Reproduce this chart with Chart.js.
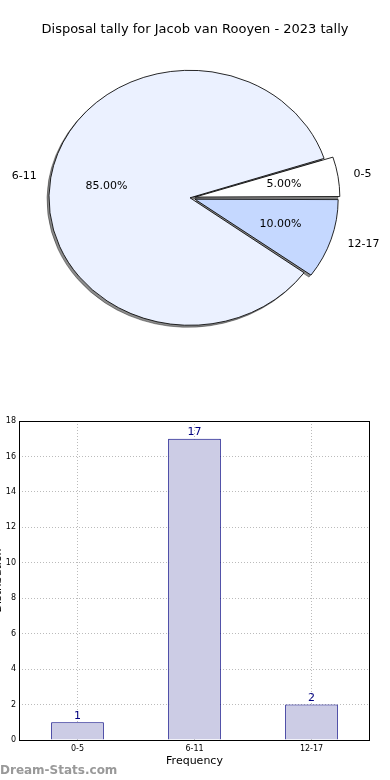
<!DOCTYPE html>
<html lang="en">
<head>
<meta charset="UTF-8">
<title>Disposal tally for Jacob van Rooyen - 2023 tally</title>
<script src="https://cdn.jsdelivr.net/npm/chart.js@4.4.1/dist/chart.umd.min.js"></script>
<style>
    body { margin: 0; background: #fff; width: 390px; height: 780px; overflow: hidden; position: relative; font-family: "DejaVu Sans", sans-serif; }
    canvas { display: block; }
    .watermark { position: absolute; left: 0; top: 763px; font-size: 12px; color: #999; font-weight: bold; }
</style>
</head>
<body>
<canvas id="pieChart" width="390" height="400"></canvas>
<canvas id="barChart" width="390" height="380"></canvas>
<div class="watermark">Dream-Stats.com</div>

<script>
// data
const binLabels = ['0-5', '6-11', '12-17'];
const binCounts = [1, 17, 2];
const sliceColors = ['#ffffff', '#ebf1ff', '#c5d8ff'];
const sliceExplode = [19, 0, 19];   // chart.js moves a slice by offset/2 px
const yTickMax = 18;
const yTickStep = 2;

const FONT = '"DejaVu Sans", sans-serif';
const total = binCounts.reduce((a, b) => a + b, 0);

// matplotlib draws counter-clockwise from 3 o'clock, Chart.js clockwise -> reverse order
const pieLabels = binLabels.slice().reverse();
const pieValues = binCounts.slice().reverse();
const pieColors = sliceColors.slice().reverse();
const pieOffsets = sliceExplode.slice().reverse();

const stretchX = 141 / 127.5; // pie is an ellipse in the reference
const shiftX = -5;            // pie sits a little left of the title
const shadowCol = 'rgba(0,0,0,0.45)';

function stretch(ctx, arc) {
    ctx.translate(arc.x + shiftX, arc.y);
    ctx.scale(stretchX, 1);
    ctx.translate(-arc.x, -arc.y);
}

const pieStyle = {
    id: 'pieStyle',
    beforeDatasetsDraw(chart) {
        const ctx = chart.ctx;
        const arcs = chart.getDatasetMeta(0).data;
        // shadows first, under every wedge
        ctx.save();
        ctx.translate(-2, 2);
        stretch(ctx, arcs[0]);
        arcs.forEach(arc => {
            const saved = arc.options;
            arc.options = Object.assign({}, saved, { backgroundColor: shadowCol, borderColor: shadowCol });
            arc.draw(ctx);
            arc.options = saved;
        });
        ctx.restore();
        ctx.save();
        stretch(ctx, arcs[0]);
    },
    afterDatasetsDraw(chart) {
        chart.ctx.restore();
    },
    afterDraw(chart) {
        const ctx = chart.ctx;
        const meta = chart.getDatasetMeta(0);
        ctx.save();
        ctx.font = '11px ' + FONT;
        ctx.fillStyle = '#000';
        ctx.textBaseline = 'middle';
        meta.data.forEach((arc, i) => {
            const mid = (arc.startAngle + arc.endAngle) / 2;
            const r = arc.outerRadius;
            const f = pieOffsets[i] / 2 / r;
            const c = Math.cos(mid), s = Math.sin(mid);
            const cx = arc.x + shiftX;
            // category label
            ctx.textAlign = c > 0 ? 'left' : 'right';
            ctx.fillText(pieLabels[i], cx + stretchX * c * r * (1.1 + f), arc.y + s * r * (1.1 + f));
            // percentage
            ctx.textAlign = 'center';
            const pct = (pieValues[i] / total * 100).toFixed(2) + '%';
            ctx.fillText(pct, cx + stretchX * c * r * (0.6 + f), arc.y + s * r * (0.6 + f));
        });
        ctx.restore();
    }
};

new Chart(document.getElementById('pieChart'), {
    type: 'pie',
    data: {
        labels: pieLabels,
        datasets: [{
            data: pieValues,
            backgroundColor: pieColors,
            borderColor: '#000',
            borderWidth: 0.8,
            offset: pieOffsets,
            hoverOffset: 0
        }]
    },
    options: {
        responsive: false,
        animation: false,
        rotation: 90,
        radius: 127.5,
        layout: { padding: { left: 0, right: 0, top: 0, bottom: 62 } },
        plugins: {
            legend: { display: false },
            tooltip: { enabled: false },
            title: {
                display: true,
                text: 'Disposal tally for Jacob van Rooyen - 2023 tally',
                color: '#000',
                font: { family: FONT, size: 13, weight: 'normal' },
                padding: { top: 22, bottom: 20 }
            }
        }
    },
    plugins: [pieStyle]
});

const barExtras = {
    id: 'barExtras',
    afterDatasetsDraw(chart) {
        const ctx = chart.ctx;
        ctx.save();
        ctx.font = '11px ' + FONT;
        ctx.fillStyle = '#000080';
        ctx.textAlign = 'center';
        ctx.textBaseline = 'bottom';
        chart.getDatasetMeta(0).data.forEach((bar, i) => {
            ctx.fillText(String(binCounts[i]), bar.x, bar.y - 1);
        });
        ctx.restore();
    },
    afterDraw(chart) {
        const ctx = chart.ctx;
        const a = chart.chartArea;
        ctx.save();
        ctx.strokeStyle = '#000';
        ctx.lineWidth = 1;
        ctx.strokeRect(a.left + 0.5, a.top + 0.5, a.right - a.left - 1, a.bottom - a.top);
        // y label, mostly cut off at the left edge like the reference
        ctx.translate(-2, (a.top + a.bottom) / 2);
        ctx.rotate(-Math.PI / 2);
        ctx.font = '11px ' + FONT;
        ctx.fillStyle = '#000';
        ctx.textAlign = 'center';
        ctx.textBaseline = 'middle';
        ctx.fillText('Distribution', 0, 0);
        ctx.restore();
    }
};

new Chart(document.getElementById('barChart'), {
    type: 'bar',
    data: {
        labels: binLabels,
        datasets: [{
            data: binCounts,
            backgroundColor: '#ccccE5',
            borderColor: '#000080',
            borderWidth: 1,
            barPercentage: 0.45,
            categoryPercentage: 1
        }]
    },
    options: {
        responsive: false,
        animation: false,
        layout: { padding: { left: 0, right: 20, top: 21, bottom: 0 } },
        plugins: { legend: { display: false }, tooltip: { enabled: false } },
        scales: {
            x: {
                grid: { offset: false, color: '#bbb', drawTicks: false },
                border: { display: false, dash: [1, 2] },
                ticks: { color: '#000', font: { family: FONT, size: 8 }, padding: 4 },
                title: { display: true, text: 'Frequency', color: '#000', font: { family: FONT, size: 11 }, padding: { top: 0, bottom: 12 } },
                afterFit(scale) { scale.height = 40; }
            },
            y: {
                min: 0,
                max: yTickMax,
                grid: { color: '#bbb', drawTicks: false },
                border: { display: false, dash: [1, 2] },
                ticks: { stepSize: yTickStep, color: '#000', font: { family: FONT, size: 8 }, padding: 3 },
                afterFit(scale) { scale.width = 19; }
            }
        }
    },
    plugins: [barExtras]
});
</script>
</body>
</html>
